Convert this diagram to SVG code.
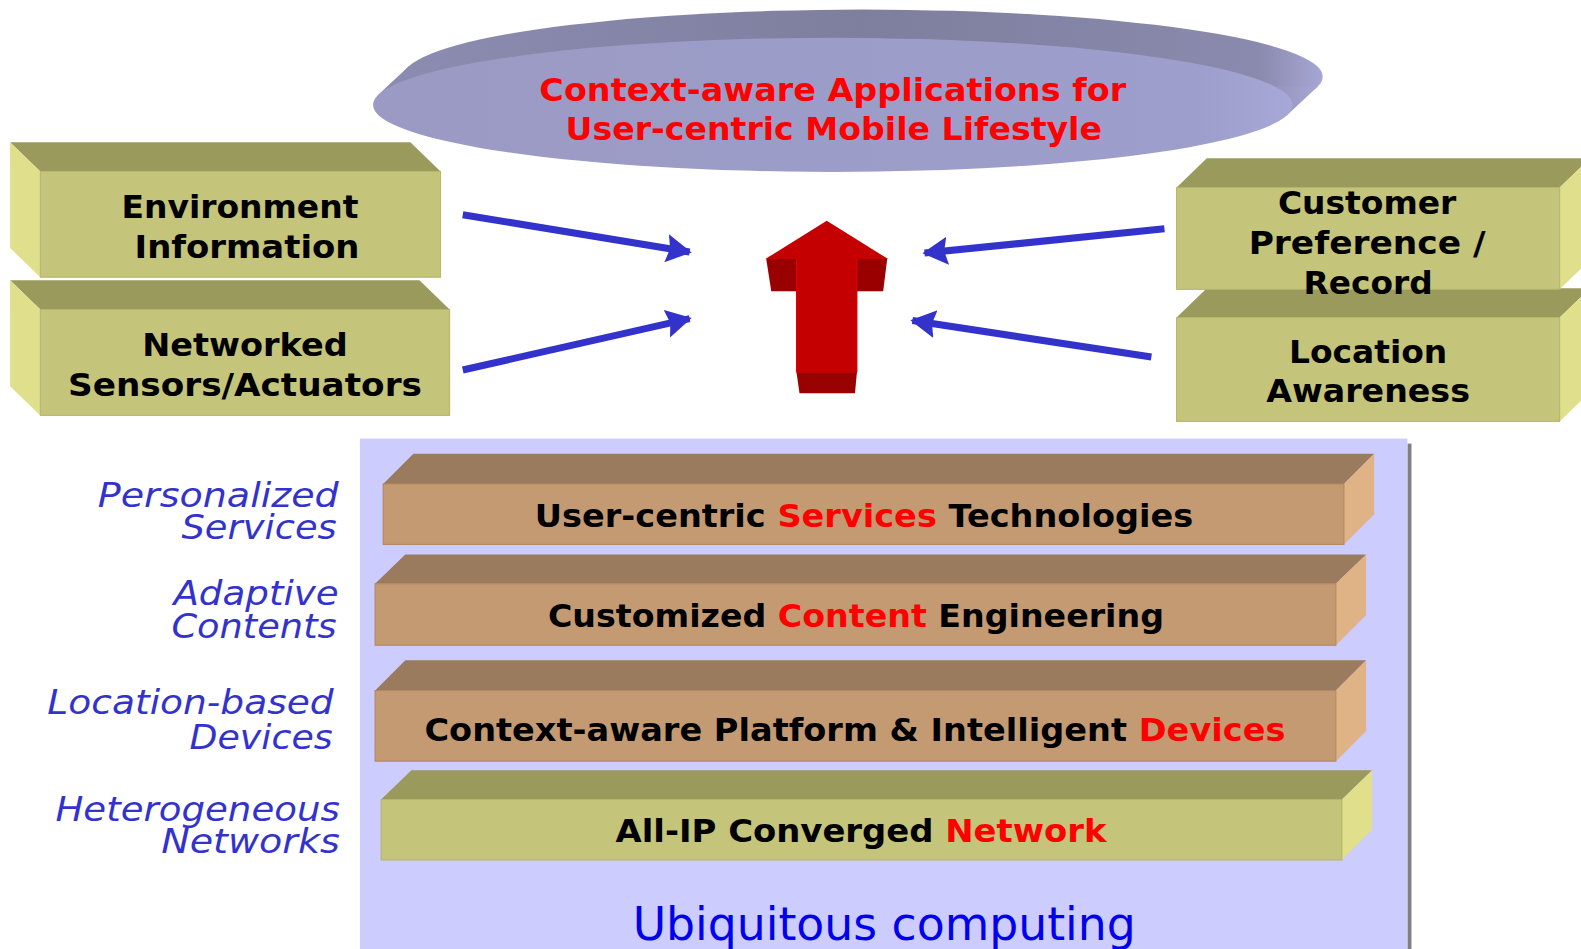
<svg xmlns="http://www.w3.org/2000/svg" width="1581" height="949" viewBox="0 0 1581 949">
<style>
.bt{font-family:"DejaVu Sans","Verdana",sans-serif;font-weight:bold;font-size:32px;fill:#000;text-anchor:middle}
.red{fill:#ff0000}
.lbl{font-family:"DejaVu Sans","Verdana",sans-serif;font-style:italic;font-size:33px;fill:#3333cc;text-anchor:end}
.otop{fill:#9a9a5c}.ofr{fill:#c4c47a;stroke:#b4b46a;stroke-width:1}.osd{fill:#e0e08c}
.btop{fill:#9a7b5d}.bfr{fill:#c49a73;stroke:#b08760;stroke-width:1}.bsd{fill:#e0b387}
.conn{stroke:#3333cc;stroke-width:7;fill:none}
</style>
<defs>
<marker id="ah" markerWidth="5" markerHeight="5" refX="3.3" refY="2.1" orient="auto" markerUnits="strokeWidth">
<path d="M0,0.1 L3.6,2.1 L0,4.1 L0.5,2.1 Z" fill="#3333cc"/>
</marker>
<linearGradient id="disk" x1="0" y1="0" x2="1" y2="0">
<stop offset="0" stop-color="#9a9ac4"/><stop offset="0.9" stop-color="#9e9ecc"/><stop offset="1" stop-color="#a8a8d8"/>
</linearGradient>
<linearGradient id="rim" x1="0" y1="0" x2="1" y2="0">
<stop offset="0" stop-color="#8c8cb2"/><stop offset="0.5" stop-color="#7e7e9e"/><stop offset="0.93" stop-color="#8a8aae"/><stop offset="1" stop-color="#a6a6d4"/>
</linearGradient>
</defs>
<rect width="1581" height="949" fill="#ffffff"/>
<g transform="scale(1.0082)">

<g id="apps">
<ellipse cx="856" cy="76" rx="456" ry="66.5" fill="url(#rim)"/>
<polygon points="375.5,93.7 405.5,65.7 1306.5,86.3 1276.5,114.3" fill="url(#rim)"/>
<ellipse cx="826" cy="104" rx="456" ry="66.5" fill="url(#disk)"/>
<text class="bt red" x="826" y="100" font-size="33" textLength="582" lengthAdjust="spacingAndGlyphs">Context-aware Applications for</text>
<text class="bt red" x="827" y="139" font-size="33" textLength="532" lengthAdjust="spacingAndGlyphs">User-centric Mobile Lifestyle</text>
</g>

<g id="env-info">
<polygon class="otop" points="10,141 407,141 437,170 40,170"/>
<polygon class="osd" points="10,141 40,170 40,275 10,246"/>
<rect class="ofr" x="40" y="170" width="397" height="105"/>
<text class="bt" x="238" y="216" textLength="235" lengthAdjust="spacingAndGlyphs">Environment</text>
<text class="bt" x="245" y="256" textLength="223" lengthAdjust="spacingAndGlyphs">Information</text>
</g>

<g id="sensors">
<polygon class="otop" points="10,278 416,278 446,307 40,307"/>
<polygon class="osd" points="10,278 40,307 40,412 10,383"/>
<rect class="ofr" x="40" y="307" width="406" height="105"/>
<text class="bt" x="243" y="353" textLength="204" lengthAdjust="spacingAndGlyphs">Networked</text>
<text class="bt" x="243" y="393" textLength="351" lengthAdjust="spacingAndGlyphs">Sensors/Actuators</text>
</g>

<g id="location-awareness">
<polygon class="otop" points="1197,286 1577,286 1547,315 1167,315"/>
<polygon class="osd" points="1547,315 1577,286 1577,389 1547,418"/>
<rect class="ofr" x="1167" y="315" width="380" height="103"/>
<text class="bt" x="1357" y="360" textLength="157" lengthAdjust="spacingAndGlyphs">Location</text>
<text class="bt" x="1357" y="399" textLength="202" lengthAdjust="spacingAndGlyphs">Awareness</text>
</g>

<g id="customer-pref">
<polygon class="otop" points="1197,157 1577,157 1547,186 1167,186"/>
<polygon class="osd" points="1547,186 1577,157 1577,258 1547,287"/>
<rect class="ofr" x="1167" y="186" width="380" height="101"/>
<text class="bt" x="1356" y="212" textLength="177" lengthAdjust="spacingAndGlyphs">Customer</text>
<text class="bt" x="1356" y="252" textLength="235" lengthAdjust="spacingAndGlyphs">Preference /</text>
<text class="bt" x="1357" y="292" textLength="128" lengthAdjust="spacingAndGlyphs">Record</text>
</g>

<g id="up-arrow">
<polygon points="760,257 790,257 790,289 765,289" fill="#990000"/>
<polygon points="850,257 880,257 876,289 850,289" fill="#990000"/>
<polygon points="790,369 850,369 848,390 793,390" fill="#990000"/>
<rect x="790" y="255" width="60" height="115" fill="#c40000"/>
<polygon points="820,219 759,257 881,257" fill="#c40000"/>
<line x1="790" y1="257" x2="790" y2="369" stroke="#e00000" stroke-width="1"/>
<line x1="850" y1="257" x2="850" y2="369" stroke="#e00000" stroke-width="1"/>
</g>

<g id="connectors">
<line class="conn" x1="459" y1="213" x2="684" y2="250" marker-end="url(#ah)"/>
<line class="conn" x1="459" y1="367" x2="684" y2="316" marker-end="url(#ah)"/>
<line class="conn" x1="1155" y1="227" x2="917" y2="251" marker-end="url(#ah)"/>
<line class="conn" x1="1142" y1="354" x2="905" y2="318" marker-end="url(#ah)"/>
</g>

<g id="ubiquitous">
<rect x="1396" y="440" width="4" height="515" fill="#808080"/>
<rect x="357" y="435" width="1039" height="520" fill="#ccccff"/>
<text x="877" y="932" font-family="DejaVu Sans, Verdana, sans-serif" font-size="45" fill="#0000ee" text-anchor="middle" textLength="499" lengthAdjust="spacingAndGlyphs">Ubiquitous computing</text>
</g>

<g id="layer-services">
<polygon class="btop" points="410,450 1363,450 1333,480 380,480"/>
<polygon class="bsd" points="1333,480 1363,450 1363,510 1333,540"/>
<rect class="bfr" x="380" y="480" width="953" height="60"/>
<text class="bt" x="857" y="523" textLength="653" lengthAdjust="spacingAndGlyphs">User-centric <tspan class="red">Services</tspan> Technologies</text>
</g>

<g id="layer-content">
<polygon class="btop" points="402,550 1355,550 1325,579 372,579"/>
<polygon class="bsd" points="1325,579 1355,550 1355,610 1325,640"/>
<rect class="bfr" x="372" y="579" width="953" height="61"/>
<text class="bt" x="849" y="622" textLength="611" lengthAdjust="spacingAndGlyphs">Customized <tspan class="red">Content</tspan> Engineering</text>
</g>

<g id="layer-devices">
<polygon class="btop" points="402,655 1355,655 1325,685 372,685"/>
<polygon class="bsd" points="1325,685 1355,655 1355,725 1325,755"/>
<rect class="bfr" x="372" y="685" width="953" height="70"/>
<text class="bt" x="848" y="735" textLength="854" lengthAdjust="spacingAndGlyphs">Context-aware Platform &amp; Intelligent <tspan class="red">Devices</tspan></text>
</g>

<g id="layer-network">
<polygon class="otop" points="408,764 1361,764 1331,793 378,793"/>
<polygon class="osd" points="1331,793 1361,764 1361,823 1331,853"/>
<rect class="ofr" x="378" y="793" width="953" height="60"/>
<text class="bt" x="854" y="835" textLength="487" lengthAdjust="spacingAndGlyphs">All-IP Converged <tspan class="red">Network</tspan></text>
</g>

<g id="side-labels">
<text class="lbl" x="336" y="503" textLength="239" lengthAdjust="spacingAndGlyphs">Personalized</text>
<text class="lbl" x="334" y="535" textLength="154" lengthAdjust="spacingAndGlyphs">Services</text>
<text class="lbl" x="336" y="600" textLength="164" lengthAdjust="spacingAndGlyphs">Adaptive</text>
<text class="lbl" x="334" y="633" textLength="164" lengthAdjust="spacingAndGlyphs">Contents</text>
<text class="lbl" x="331" y="708" textLength="284" lengthAdjust="spacingAndGlyphs">Location-based</text>
<text class="lbl" x="330" y="743" textLength="142" lengthAdjust="spacingAndGlyphs">Devices</text>
<text class="lbl" x="337" y="814" textLength="282" lengthAdjust="spacingAndGlyphs">Heterogeneous</text>
<text class="lbl" x="337" y="846" textLength="177" lengthAdjust="spacingAndGlyphs">Networks</text>
</g>
</g>
</svg>
